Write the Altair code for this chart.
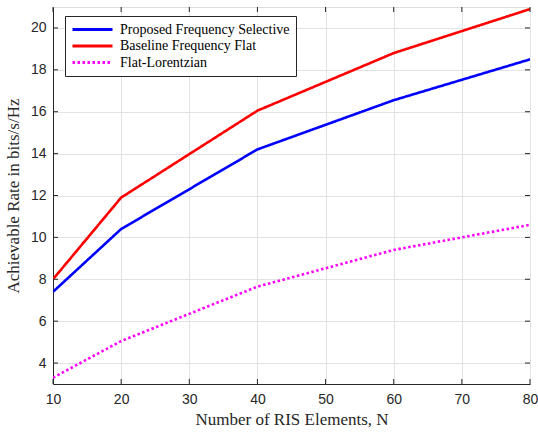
import altair as alt
import pandas as pd

N = [10, 20, 40, 60, 80]
proposed = [7.4, 10.4, 14.2, 16.55, 18.5]
baseline = [8.0, 11.9, 16.05, 18.8, 20.9]
lorentz = [3.3, 5.05, 7.65, 9.4, 10.6]
series_names = ["Proposed Frequency Selective", "Baseline Frequency Flat", "Flat-Lorentzian"]
colors = ["#0000FF", "#FF0000", "#FF00FF"]
x_ticks = [10, 20, 30, 40, 50, 60, 70, 80]
y_ticks = [4, 6, 8, 10, 12, 14, 16, 18, 20]
x_dom = [10, 80]
y_dom = [3, 21]

rows = []
for name, vals in zip(series_names, [proposed, baseline, lorentz]):
    for n, v in zip(N, vals):
        rows.append({"N": n, "rate": v, "series": name})
df = pd.DataFrame(rows)

W, H = 477, 377
xs = alt.Scale(domain=x_dom, nice=False, zero=False)
ys = alt.Scale(domain=y_dom, nice=False, zero=False)

lines = alt.Chart(df).mark_line(strokeWidth=2.6, clip=True).encode(
    x=alt.X("N:Q", scale=xs,
            axis=alt.Axis(values=x_ticks, title="Number of RIS Elements, N", grid=True,
                          gridColor="#e3e3e3", tickSize=0, labelPadding=8, labelFlush=False,
                          domainColor="#262626", labelColor="#262626",
                          labelFont="Liberation Sans", labelFontSize=14,
                          titleFont="Liberation Serif", titleFontSize=17,
                          titleFontWeight="normal", titleColor="#262626", titlePadding=5)),
    y=alt.Y("rate:Q", scale=ys,
            axis=alt.Axis(values=y_ticks, title="Achievable Rate in bits/s/Hz", grid=True,
                          gridColor="#e3e3e3", tickSize=0, labelPadding=7,
                          domainColor="#262626", labelColor="#262626",
                          labelFont="Liberation Sans", labelFontSize=14,
                          titleFont="Liberation Serif", titleFontSize=17,
                          titleFontWeight="normal", titleColor="#262626", titlePadding=8)),
    color=alt.Color("series:N", scale=alt.Scale(domain=series_names, range=colors),
                    legend=alt.Legend(title=None, orient="none", legendX=12, legendY=9,
                                      symbolType="stroke", symbolSize=1600, symbolStrokeWidth=3,
                                      clipHeight=15, labelLimit=400,
                                      labelFont="Liberation Serif", labelFontSize=14,
                                      labelColor="#000000", strokeColor="#262626",
                                      fillColor="white", padding=6, rowPadding=1.5,
                                      labelOffset=6, symbolOffset=0)),
    strokeDash=alt.StrokeDash("series:N",
                              scale=alt.Scale(domain=series_names, range=[[1, 0], [1, 0], [2.5, 2.5]]),
                              legend=None),
)

tick_len_y = 5 * (y_dom[1] - y_dom[0]) / H
tick_len_x = 5 * (x_dom[1] - x_dom[0]) / W
xt = pd.DataFrame({"x": x_ticks})
yt = pd.DataFrame({"y": y_ticks})
tick_style = dict(color="#262626", strokeWidth=1)
xb = alt.Chart(xt).mark_rule(**tick_style).encode(
    x=alt.X("x:Q", scale=xs), y=alt.Y("y0:Q", scale=ys), y2="y1:Q"
).transform_calculate(y0=str(y_dom[0]), y1=str(y_dom[0] + tick_len_y))
xtop = alt.Chart(xt).mark_rule(**tick_style).encode(
    x=alt.X("x:Q", scale=xs), y=alt.Y("y0:Q", scale=ys), y2="y1:Q"
).transform_calculate(y0=str(y_dom[1]), y1=str(y_dom[1] - tick_len_y))
yl = alt.Chart(yt).mark_rule(**tick_style).encode(
    y=alt.Y("y:Q", scale=ys), x=alt.X("x0:Q", scale=xs), x2="x1:Q"
).transform_calculate(x0=str(x_dom[0]), x1=str(x_dom[0] + tick_len_x))
yr = alt.Chart(yt).mark_rule(**tick_style).encode(
    y=alt.Y("y:Q", scale=ys), x=alt.X("x0:Q", scale=xs), x2="x1:Q"
).transform_calculate(x0=str(x_dom[1]), x1=str(x_dom[1] - tick_len_x))

chart = alt.layer(lines, xb, xtop, yl, yr).properties(
    width=W, height=H,
    autosize=alt.AutoSizeParams(type="none"),
    padding={"left": 53, "top": 7, "right": 8, "bottom": 50},
).configure_view(stroke="#262626", strokeWidth=1).configure(
    background="white"
).configure_legend(labelFont="Liberation Serif", labelFontSize=14)

chart.save("out.html", embed_options={"renderer": "svg", "actions": False})
